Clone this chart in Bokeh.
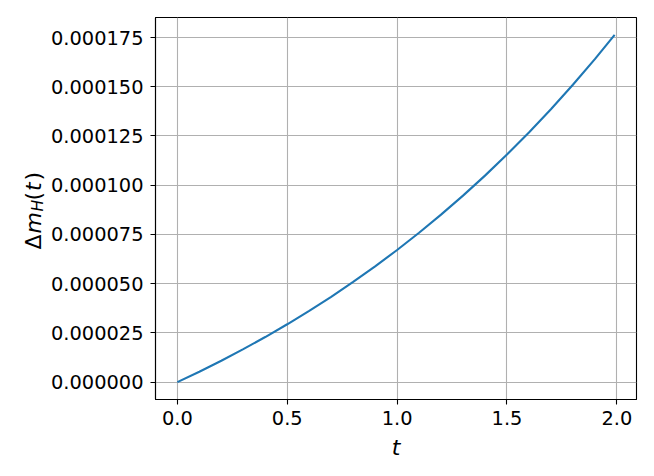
from bokeh.plotting import figure
from bokeh.models import Range1d, FixedTicker, NumeralTickFormatter, ColumnDataSource
from bokeh.layouts import row
from bokeh.core.properties import value
from bokeh.embed import file_html
from bokeh.resources import INLINE
import math

# data
t_values = [0.0, 0.1, 0.2, 0.3, 0.4, 0.5, 0.6, 0.7, 0.8, 0.9, 1.0,
            1.1, 1.2, 1.3, 1.4, 1.5, 1.6, 1.7, 1.8, 1.9, 1.99]
dm_values = [0.0, 5.30e-6, 1.088e-5, 1.674e-5, 2.290e-5, 2.938e-5, 3.619e-5,
             4.335e-5, 5.087e-5, 5.879e-5, 6.711e-5, 7.585e-5, 8.504e-5,
             9.470e-5, 1.0486e-4, 1.1555e-4, 1.2677e-4, 1.3857e-4, 1.5098e-4,
             1.6402e-4, 1.7634e-4]
x_ticks = [0.0, 0.5, 1.0, 1.5, 2.0]
y_ticks = [0.0, 2.5e-5, 5.0e-5, 7.5e-5, 1.0e-4, 1.25e-4, 1.5e-4, 1.75e-4]

# y-axis label pieces: Δ m_H (t)
ylabel_text = ["Δ", "m", "H", "(", "t", ")"]
ylabel_style = ["normal", "italic", "italic", "normal", "italic", "normal"]
ylabel_size = ["22px", "22px", "15.4px", "22px", "22px", "22px"]

FONT = "DejaVu Sans"
H = 468
LW = 46
FRAME_TOP, FRAME_BOTTOM = 17, 399

xmin, xmax = min(t_values), max(t_values)
ymin, ymax = min(dm_values), max(dm_values)
xm = 0.05 * (xmax - xmin)
ym = 0.05 * (ymax - ymin)

p = figure(width=600, height=H, output_backend="svg", toolbar_location=None,
           x_range=Range1d(xmin - xm, xmax + xm), y_range=Range1d(ymin - ym, ymax + ym),
           min_border_left=109, min_border_right=10,
           min_border_top=FRAME_TOP, min_border_bottom=H - FRAME_BOTTOM)
p.background_fill_color = "white"
p.border_fill_color = "white"
p.outline_line_color = "black"
p.outline_line_width = 1.1

p.line(t_values, dm_values, line_color="#1f77b4", line_width=2.1)

p.xaxis.ticker = FixedTicker(ticks=x_ticks)
p.yaxis.ticker = FixedTicker(ticks=y_ticks)
p.xaxis.formatter = NumeralTickFormatter(format="0.0")
p.yaxis.formatter = NumeralTickFormatter(format="0.000000")

for ax in (p.xaxis[0], p.yaxis[0]):
    ax.axis_line_color = "black"
    ax.axis_line_width = 1.1
    ax.major_tick_line_color = "black"
    ax.major_tick_line_width = 1.1
    ax.major_tick_in = 0
    ax.major_tick_out = 5
    ax.minor_tick_line_color = None
    ax.major_label_text_font = FONT
    ax.major_label_text_font_size = "19.4px"
    ax.major_label_text_color = "black"
p.xaxis.major_label_standoff = 6
p.yaxis.major_label_standoff = 7

p.xaxis.axis_label = "t"
p.xaxis.axis_label_text_font = FONT
p.xaxis.axis_label_text_font_style = "italic"
p.xaxis.axis_label_text_font_size = "22px"
p.xaxis.axis_label_text_color = "black"
p.xaxis.axis_label_standoff = 7

p.xgrid.ticker = FixedTicker(ticks=x_ticks)
p.ygrid.ticker = FixedTicker(ticks=y_ticks)
for g in (p.xgrid[0], p.ygrid[0]):
    g.grid_line_color = "#b0b0b0"
    g.grid_line_width = 1.1

# narrow panel holding the rotated y-axis label (its frame aligns with the main frame)
lab = figure(width=LW, height=H, output_backend="svg", toolbar_location=None,
             x_range=Range1d(0, LW), y_range=Range1d(0, FRAME_BOTTOM - FRAME_TOP),
             x_axis_location=None, y_axis_location=None,
             min_border_left=0, min_border_right=0,
             min_border_top=FRAME_TOP, min_border_bottom=H - FRAME_BOTTOM)
lab.outline_line_color = None
lab.grid.visible = False
lab.background_fill_color = "white"
lab.border_fill_color = "white"
page_y = [249, 233, 211, 200, 190.5, 180]
src = ColumnDataSource(dict(
    x=[33, 33, 37, 33, 33, 33],
    y=[FRAME_BOTTOM - v for v in page_y],
    text=ylabel_text, style=ylabel_style, size=ylabel_size))
lab.text(x="x", y="y", text="text", source=src, angle=math.pi / 2,
         text_font=value(FONT), text_font_style="style", text_font_size="size",
         text_align="left", text_baseline="alphabetic", text_color="black")

layout = row(lab, p)
open("out.html", "w").write(file_html(layout, INLINE))
